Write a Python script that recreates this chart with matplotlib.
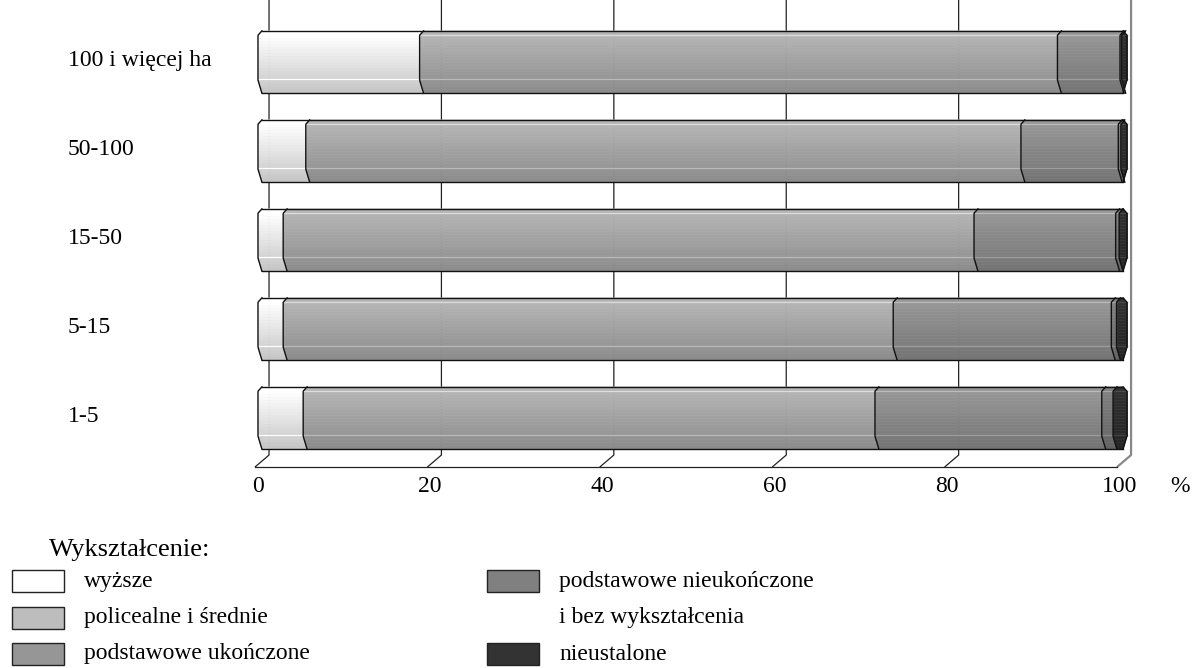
import numpy as np
import matplotlib.pyplot as plt
from matplotlib.patches import Rectangle
from matplotlib.colors import to_rgb
import matplotlib.transforms as mtransforms

plt.rcParams['font.family'] = ['Liberation Serif', 'DejaVu Serif']

# Dane: struktura wykształcenia wg grup obszarowych (%), od dołu do góry
grupy = ["1-5", "5-15", "15-50", "50-100", "100 i więcej ha"]
wyzsze = [5.2, 2.9, 2.9, 5.5, 18.6]
policealne = [65.8, 70.2, 79.5, 82.3, 73.4]
ukonczone = [26.1, 25.1, 16.3, 11.2, 7.2]
nieukonczone = [1.3, 0.6, 0.4, 0.3, 0.2]
nieustalone = [1.6, 1.2, 0.9, 0.7, 0.6]
ticki = [0, 20, 40, 60, 80, 100]

nazwy = ["wyższe", "policealne i średnie", "podstawowe ukończone",
         "podstawowe nieukończone\ni bez wykształcenia", "nieustalone"]
kolory = ["#ffffff", "#bdbdbd", "#969696", "#808080", "#333333"]
kolory_slupkow = ["#ffffff", "#b4b4b4", "#969696", "#808080", "#303030"]

serie = np.array([wyzsze, policealne, ukonczone, nieukonczone, nieustalone])

fig = plt.figure(figsize=(11.92, 6.68), dpi=100)
W, H = 1192, 668
# obszar wykresu w pikselach: 240..1150 w poziomie, 0..470 w pionie
ax = fig.add_axes([240 / W, 1 - 470 / H, 910 / W, 470 / H])
ax.set_xlim(-2.07, 102.65)
ax.set_ylim(-0.584, 4.697)
ax.axis("off")

B = 0.45     # wybrzuszenie krawędzi walca
h = 0.35     # połowa wysokości słupka
y_tyl = -0.416
y_przod = -0.551


def tyl(x):
    return 1.27 + 0.992 * x


def przod(x):
    return -0.35 + 0.992 * x


# siatka w tylnej płaszczyźnie + podłoga
for t in ticki:
    col = "#888888" if t == 100 else "#222222"
    lw = 1.6 if t == 100 else 0.9
    ax.plot([tyl(t), tyl(t), przod(t)], [4.697, y_tyl, y_przod], color=col, lw=lw, zorder=1,
            solid_capstyle="butt")
ax.plot([przod(0), przod(100)], [y_przod, y_przod], color="#222222", lw=0.9, zorder=1)


def profil(s):
    return np.minimum(1, np.minimum(s / 0.07, (1 - s) / 0.21))


def krzywa(v, s):
    return v + B * (1 - profil(s))


def koniec(s):
    return 100 - B * (1 - profil(s))


def cien(s):
    return 1.02 - 0.25 * s


s_siatka = np.unique(np.concatenate([np.linspace(0, 0.07, 3), np.linspace(0.07, 0.79, 16),
                                     np.linspace(0.79, 1, 5)]))

for i in range(len(grupy)):
    yc = i
    cum = np.concatenate([[0], np.cumsum(serie[:, i])])
    cum[-1] = 100

    def yy(s):
        return yc + h - 2 * h * s

    for j in range(len(kolory_slupkow)):
        baza = np.array(to_rgb(kolory_slupkow[j]))
        for k in range(len(s_siatka) - 1):
            s0, s1 = s_siatka[k], s_siatka[k + 1]
            l0, l1 = krzywa(cum[j], s0), krzywa(cum[j], s1)
            if j < len(kolory) - 1:
                r0, r1 = krzywa(cum[j + 1], s0), krzywa(cum[j + 1], s1)
            else:
                r0, r1 = max(koniec(s0), l0), max(koniec(s1), l1)
            c = np.clip(baza * cien((s0 + s1) / 2), 0, 1)
            ax.fill([l0, r0, r1, l1], [yy(s0), yy(s0), yy(s1), yy(s1)],
                    color=c, ec=c, lw=0.4, zorder=2)
        # jasne linie odblasku
        for sh in (0.07, 0.78):
            lx = krzywa(cum[j], sh)
            rx = krzywa(cum[j + 1], sh) if j < len(kolory) - 1 else max(koniec(sh), lx)
            c = np.clip(baza * cien(sh) * 1.1 + 0.09, 0, 1)
            ax.plot([lx, rx], [yy(sh), yy(sh)], color=c, lw=0.9, zorder=3)

    ss = np.linspace(0, 1, 60)
    for j in range(len(kolory)):
        ax.plot(krzywa(cum[j], ss), yy(ss), color="#111111", lw=1.0, zorder=4)
    ax.plot(koniec(ss), yy(ss), color="#111111", lw=1.0, zorder=4)
    ax.plot([krzywa(0, 0), koniec(0)], [yy(0), yy(0)], color="#111111", lw=1.0, zorder=4)
    ax.plot([krzywa(0, 1), koniec(1)], [yy(1), yy(1)], color="#111111", lw=1.0, zorder=4)

# etykiety grup
tr = mtransforms.blended_transform_factory(fig.transFigure, ax.transData)
for i, g in enumerate(grupy):
    ax.text(68 / W, i + 0.02, g, transform=tr, ha="left", va="center", fontsize=17)

# etykiety osi X
for t in ticki:
    ax.text(przod(t) + 0.3, -0.77, str(t), ha="center", va="center", fontsize=17, clip_on=False)
ax.text(106.1, -0.77, "%", ha="center", va="center", fontsize=17, clip_on=False)

# legenda
lg = fig.add_axes([0, 0, 1, 1])
lg.set_xlim(0, W)
lg.set_ylim(H, 0)
lg.axis("off")
lg.patch.set_alpha(0)
lg.text(49, 550, "Wykształcenie:", ha="left", va="center", fontsize=19)
pozycje = [(12, 581), (12, 618), (12, 654), (487, 581), (487, 654)]
for (x, y), nazwa, kol in zip(pozycje, nazwy, kolory):
    lg.add_patch(Rectangle((x, y - 11), 52, 22, fc=kol, ec="#222222", lw=1.0))
    if "\n" in nazwa:
        a, b = nazwa.split("\n")
        lg.text(x + 72, y, a, ha="left", va="center", fontsize=17)
        lg.text(x + 72, y + 37, b, ha="left", va="center", fontsize=17)
    else:
        lg.text(x + 72, y, nazwa, ha="left", va="center", fontsize=17)

fig.savefig("out.png", dpi=100)
